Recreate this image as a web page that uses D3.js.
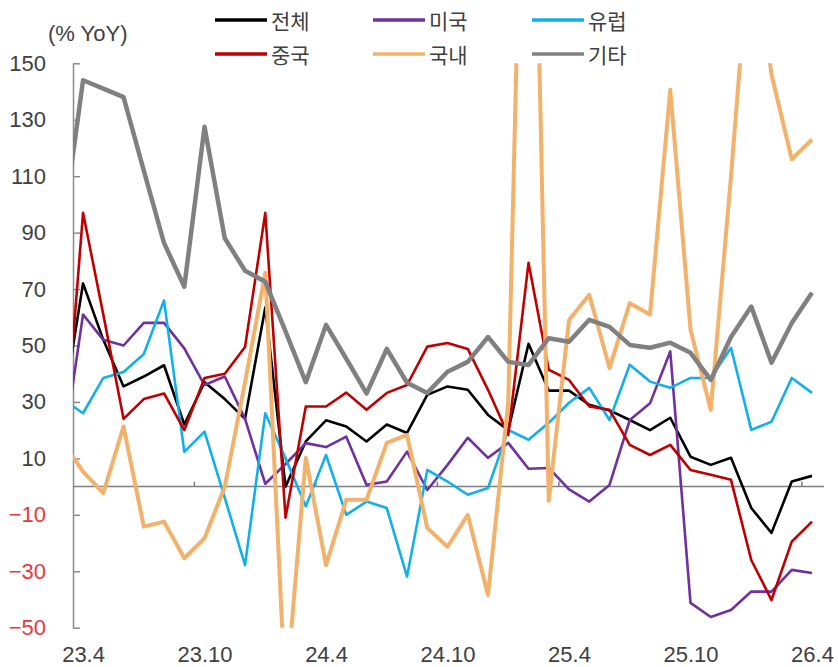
<!DOCTYPE html>
<html>
<head>
<meta charset="utf-8">
<script src="https://cdn.jsdelivr.net/npm/d3@7"></script>
<style>
  body { margin: 0; background: #fff; }
  text { font-family: "Liberation Sans", Arial, sans-serif; }
  .kr { font-family: "Noto Sans CJK KR", "Noto Sans", sans-serif; }
</style>
</head>
<body>
<div id="chart"></div>
<script>
// months (first one sits left of the plot area and is clipped)
var months = ["23.3","23.4","23.5","23.6","23.7","23.8","23.9","23.10","23.11","23.12",
  "24.1","24.2","24.3","24.4","24.5","24.6","24.7","24.8","24.9","24.10","24.11","24.12",
  "25.1","25.2","25.3","25.4","25.5","25.6","25.7","25.8","25.9","25.10","25.11","25.12",
  "26.1","26.2","26.3","26.4"];
var tickLabels = ["23.4","23.10","24.4","24.10","25.4","25.10","26.4"];
var yTicks = [-50,-30,-10,10,30,50,70,90,110,130,150];

// series values (% YoY)
var total = [27,72,52,35.5,39,43,22,37,31,24,63.5,0,16,23.5,21.3,16,22,19,32.5,35.5,34.3,25.4,20,50.6,
  34,34,29,27,23.6,20,24.4,10.6,7.7,10.2,-7.6,-16.4,1.8,3.8];
var usa = [12,61,52,50,58,58,49,36,39,24,1,8,15.4,14,17.7,0.6,1.8,12.4,-1.2,7.7,17.3,10.2,15.5,6.3,
  6.6,-1,-5.3,0.6,23.6,29.5,47.9,-41.2,-46.2,-43.7,-37.2,-37.2,-29.5,-30.6];
var europe = [31,26,38.5,40.6,47,66,12.3,19.5,-4,-27.8,26,10,-7,11.2,-10,-5.3,-7.6,-31.9,5.9,1.8,-2.9,-0.5,20.1,16.6,
  22.6,29.7,35,23.6,43.2,37.2,35,38.5,38.5,49.2,20.1,23,38.5,33.2];
var china = [6,97,61,24,31,33,20,38.5,40,49.5,97,-11,28.4,28.4,33.3,27.2,33.2,36,49.6,50.9,48.8,34.3,18.3,79.3,
  41.4,37.8,28.4,27.2,14.8,11.2,14.8,5.9,4.2,2.4,-26,-40.2,-19.5,-12.4];
var domestic = [16,5.3,-2.3,21.3,-14.2,-12.4,-25.4,-18.3,0,37,75.8,-75,10.2,-27.8,-4.7,-4.7,15.5,18.3,-14.7,-21.3,-10,-38.4,30,330,
  -5,59,68,42,65,61,140.6,55.6,27.2,110,200,146,116,123];
var other = [91,144,141,138,112,86.3,70.8,127.5,88,76.5,72.6,55,37,57.3,45.3,33,48.8,36.8,33.2,40.7,44.2,53,44.2,43.1,
  52.6,51.3,59.1,56.6,50.2,49.2,51,47.4,37.8,53,63.8,43.9,58,68.7];

var series = [
  {name: "전체", values: total,    color: "#000000", width: 2.6},
  {name: "미국", values: usa,      color: "#7030A0", width: 2.6},
  {name: "유럽", values: europe,   color: "#12B0EA", width: 2.6},
  {name: "중국", values: china,    color: "#C00000", width: 2.6},
  {name: "국내", values: domestic, color: "#F2B26B", width: 4},
  {name: "기타", values: other,    color: "#808080", width: 4.5}
];

var width = 838, height = 667;
var plot = {left: 73, right: 824, top: 63.3, bottom: 627.7};

var svg = d3.select("#chart")
  .append("svg")
    .attr("width", width)
    .attr("height", height);

var x = d3.scalePoint()
  .domain(months)
  .range([62.8, 812]);
var y = d3.scaleLinear()
  .domain([-50, 150])
  .range([plot.bottom, plot.top]);

svg.append("clipPath").attr("id", "plotclip")
  .append("rect")
    .attr("x", plot.left)
    .attr("y", plot.top)
    .attr("width", plot.right - plot.left)
    .attr("height", plot.bottom - plot.top);

// Y axis
var yAxis = svg.append("g")
  .attr("transform", `translate(${plot.left},0)`)
  .call(d3.axisLeft(y).tickValues(yTicks).tickSizeInner(-7).tickSizeOuter(0)
    .tickPadding(27).tickFormat(d3.format("d")));
yAxis.select(".domain").attr("stroke", "#8c8c8c").attr("stroke-width", 1.5);
yAxis.selectAll(".tick line").attr("stroke", "#8c8c8c").attr("stroke-width", 1.5);
yAxis.selectAll(".tick text")
  .attr("font-size", 22)
  .attr("font-family", "Liberation Sans, Arial, sans-serif")
  .attr("fill", d => d < 0 ? "#E8383D" : "#404040");

// zero line with small ticks between categories
svg.append("line")
  .attr("x1", plot.left)
  .attr("x2", plot.right)
  .attr("y1", y(0))
  .attr("y2", y(0))
  .attr("stroke", "#7f7f7f")
  .attr("stroke-width", 1.5);
svg.append("g")
  .selectAll("line")
  .data(tickLabels.slice(1))
  .join("line")
    .attr("x1", d => x(d) - x.step() / 2)
    .attr("x2", d => x(d) - x.step() / 2)
    .attr("y1", y(0))
    .attr("y2", y(0) - 5)
    .attr("stroke", "#7f7f7f")
    .attr("stroke-width", 1.5);

// X labels
var xAxis = svg.append("g")
  .attr("transform", `translate(0,${plot.bottom})`)
  .call(d3.axisBottom(x).tickValues(tickLabels).tickSize(0).tickPadding(19));
xAxis.select(".domain").remove();
xAxis.selectAll(".tick text")
  .attr("font-size", 22)
  .attr("font-family", "Liberation Sans, Arial, sans-serif")
  .attr("fill", "#404040");

// unit label
svg.append("text")
  .attr("x", 48)
  .attr("y", 33)
  .attr("dominant-baseline", "central")
  .attr("font-size", 22)
  .attr("fill", "#404040")
  .text("(% YoY)");

// Lines
var line = d3.line()
  .x((d, i) => x(months[i]))
  .y(d => y(d));

svg.append("g")
  .attr("clip-path", "url(#plotclip)")
  .selectAll("path")
  .data(series)
  .join("path")
    .attr("d", d => line(d.values))
    .attr("fill", "none")
    .attr("stroke", d => d.color)
    .attr("stroke-width", d => d.width)
    .attr("stroke-linejoin", "round");

// Legend
var legX = [215, 373, 532], legY = [20, 54];
var leg = svg.append("g")
  .selectAll("g")
  .data(series)
  .join("g")
    .attr("transform", (d, i) => `translate(${legX[i % 3]},${legY[Math.floor(i / 3)]})`);
leg.append("line")
  .attr("x1", 0)
  .attr("x2", 52)
  .attr("stroke", d => d.color)
  .attr("stroke-width", 3.5);
leg.append("text")
  .attr("class", "kr")
  .attr("x", 56)
  .attr("dominant-baseline", "central")
  .attr("font-size", 21)
  .attr("fill", "#404040")
  .text(d => d.name);
</script>
</body>
</html>
